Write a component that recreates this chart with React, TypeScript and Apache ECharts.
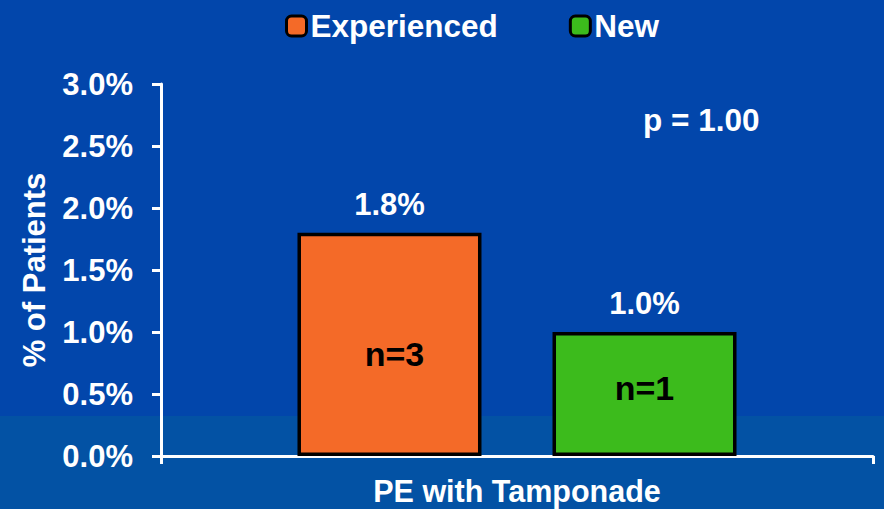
import React, { useEffect, useRef } from "react";
import * as echarts from "echarts";

const categories = ["PE with Tamponade"];
const seriesNames = ["Experienced", "New"];
const experiencedValues = [1.8];
const newValues = [1.0];
const experiencedCounts = ["n=3"];
const newCounts = ["n=1"];
const yTicks = { min: 0, max: 3, interval: 0.5 };
const pValueText = "p = 1.00";

const FONT = '"Liberation Sans", Arial, sans-serif';
const ORANGE = "#F46A28";
const GREEN = "#3CBB1C";

export default function App() {
  const ref = useRef<HTMLDivElement>(null);
  useEffect(() => {
    if (!ref.current) return;
    const chart = echarts.init(ref.current, null, { renderer: "svg" });
    const txt = { color: "#fff", fontWeight: "bold" as const, fontSize: 31, fontFamily: FONT };
    const grid = { left: 161, right: 11, top: 84, bottom: 53 };
    chart.setOption({
      animation: false,
      backgroundColor: "#0246AB",
      textStyle: { fontFamily: FONT },
      graphic: [
        {
          type: "rect",
          z: -10,
          silent: true,
          shape: { x: 0, y: 416, width: 884, height: 93 },
          style: { fill: "#0352A4" },
        },
        {
          type: "text",
          x: 643,
          y: 120,
          style: { text: pValueText, fill: "#fff", font: `bold 31.5px ${FONT}`, verticalAlign: "middle", align: "left" },
        },
      ],
      legend: {
        data: seriesNames,
        left: 285,
        top: 10,
        padding: 0,
        itemWidth: 20,
        itemHeight: 20,
        itemGap: 71,
        itemStyle: { borderColor: "#000", borderWidth: 3 },
        textStyle: { ...txt, fontSize: 31.5, padding: [0, 0, 0, -1] },
      },
      grid,
      xAxis: [
        {
          type: "category",
          data: categories,
          axisLine: { lineStyle: { color: "#fff", width: 3 } },
          axisTick: { show: true, length: 8, lineStyle: { color: "#fff", width: 3 } },
          axisLabel: { ...txt, fontSize: 30.5, lineHeight: 30, margin: 20 },
        },
        {
          type: "category",
          data: categories,
          show: false,
        },
      ],
      yAxis: {
        type: "value",
        min: yTicks.min,
        max: yTicks.max,
        interval: yTicks.interval,
        name: "% of Patients",
        nameLocation: "middle",
        nameRotate: 90,
        nameGap: 111,
        nameTextStyle: txt,
        axisLine: { show: true, lineStyle: { color: "#fff", width: 3 } },
        axisTick: { show: true, length: 9, lineStyle: { color: "#fff", width: 3 } },
        splitLine: { show: false },
        axisLabel: { ...txt, margin: 28, formatter: (v: number) => v.toFixed(1) + "%" },
      },
      series: [
        {
          name: seriesNames[0],
          type: "bar",
          data: experiencedValues,
          barWidth: 184,
          barGap: "38.6%",
          itemStyle: { color: ORANGE, borderColor: "#000", borderWidth: 3.5 },
          label: { show: true, position: "top", distance: 13, ...txt, formatter: (p: any) => p.value.toFixed(1) + "%" },
        },
        {
          name: seriesNames[1],
          type: "bar",
          data: newValues,
          barWidth: 184,
          barGap: "38.6%",
          itemStyle: { color: GREEN, borderColor: "#000", borderWidth: 3.5 },
          label: { show: true, position: "top", distance: 13, ...txt, formatter: (p: any) => p.value.toFixed(1) + "%" },
        },
        {
          name: "ExperiencedCount",
          type: "bar",
          xAxisIndex: 1,
          data: experiencedValues.map((v, i) => ({ value: v, label: { offset: [5, 10] }, name: experiencedCounts[i] })),
          barWidth: 184,
          barGap: "38.6%",
          itemStyle: { color: "transparent" },
          label: { show: true, position: "inside", ...txt, fontSize: 34, color: "#000", formatter: (p: any) => experiencedCounts[p.dataIndex] },
          silent: true,
        },
        {
          name: "NewCount",
          type: "bar",
          xAxisIndex: 1,
          data: newValues.map((v, i) => ({ value: v, label: { offset: [0, -6] }, name: newCounts[i] })),
          barWidth: 184,
          barGap: "38.6%",
          itemStyle: { color: "transparent" },
          label: { show: true, position: "inside", ...txt, fontSize: 34, color: "#000", formatter: (p: any) => newCounts[p.dataIndex] },
          silent: true,
        },
      ],
    });
    return () => chart.dispose();
  }, []);
  return <div ref={ref} style={{ position: "fixed", left: 0, top: 0, width: 884, height: 509 }} />;
}
